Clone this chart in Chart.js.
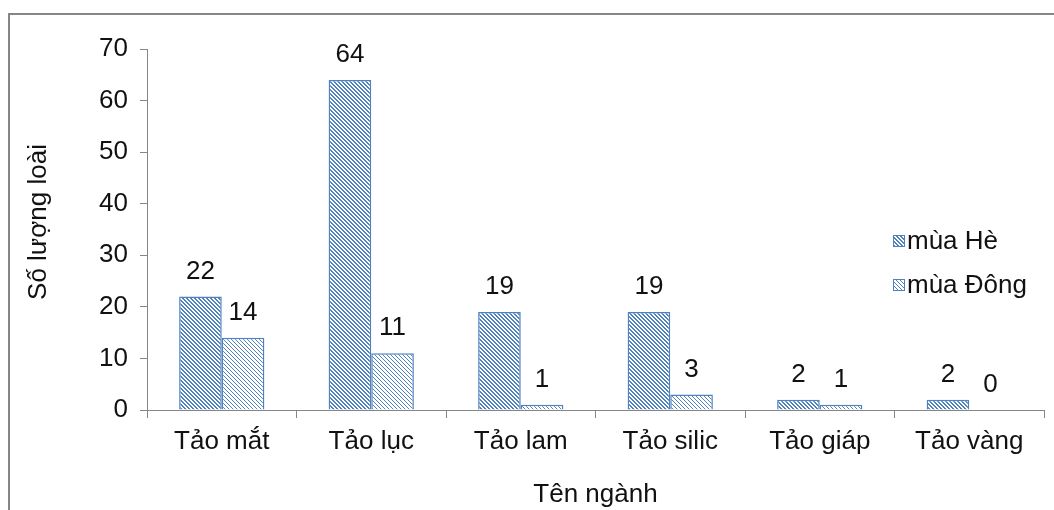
<!DOCTYPE html>
<html>
<head>
<meta charset="utf-8">
<script src="https://cdn.jsdelivr.net/npm/chart.js@4/dist/chart.umd.min.js"></script>
<style>
  html, body { margin: 0; padding: 0; background: #fff; }
  #wrap { width: 1054px; height: 510px; position: relative; }
</style>
</head>
<body>
<div id="wrap"><canvas id="c" width="1054" height="510"></canvas></div>
<script>
// Số loài tảo theo ngành, hai mùa
const categories = ['Tảo mắt', 'Tảo lục', 'Tảo lam', 'Tảo silic', 'Tảo giáp', 'Tảo vàng'];
const summerValues = [22, 64, 19, 19, 2, 2];
const winterValues = [14, 11, 1, 3, 1, 0];
const seriesNames = ['mùa Hè', 'mùa Đông'];
const yTicks = [0, 10, 20, 30, 40, 50, 60, 70];
const xTitle = 'Tên ngành';
const yTitle = 'Số lượng loài';

const BLUE = '#4F81BD';
const AXIS = '#868686';
const TEXT = '#111';
const FONT = "'Liberation Sans', Arial, sans-serif";
const FS = 26;

// diagonal hatch fills ("\" direction); stripe = blue pixels per 4px period
function hatch(stripe) {
  const t = document.createElement('canvas');
  t.width = 4; t.height = 4;
  const g = t.getContext('2d');
  g.fillStyle = '#fff';
  g.fillRect(0, 0, 4, 4);
  g.fillStyle = BLUE;
  for (let y = 0; y < 4; y++) {
    for (let x = 0; x < 4; x++) {
      if ((((x - y) % 4) + 4) % 4 < stripe) g.fillRect(x, y, 1, 1);
    }
  }
  return g.createPattern(t, 'repeat');
}
const summerFill = hatch(2);
const winterFill = hatch(1);

// outer frame of the chart object
const framePlugin = {
  id: 'frame',
  beforeDraw(chart) {
    const ctx = chart.ctx;
    ctx.save();
    ctx.strokeStyle = AXIS;
    ctx.lineWidth = 2;
    ctx.strokeRect(9, 14, 1100, 600);
    ctx.restore();
  }
};

// rotated y-axis title, placed left of the tick labels
const yTitlePlugin = {
  id: 'yTitle',
  afterDraw(chart) {
    const ctx = chart.ctx;
    ctx.save();
    ctx.translate(39, 222);
    ctx.rotate(-Math.PI / 2);
    ctx.font = FS + 'px ' + FONT;
    ctx.fillStyle = TEXT;
    ctx.textAlign = 'center';
    ctx.textBaseline = 'middle';
    ctx.fillText(yTitle, 0, 0);
    ctx.restore();
  }
};

// value labels above each bar
const valueLabels = {
  id: 'valueLabels',
  afterDatasetsDraw(chart) {
    const ctx = chart.ctx;
    ctx.save();
    ctx.font = FS + 'px ' + FONT;
    ctx.fillStyle = TEXT;
    ctx.textAlign = 'center';
    ctx.textBaseline = 'middle';
    chart.data.datasets.forEach((ds, i) => {
      const meta = chart.getDatasetMeta(i);
      meta.data.forEach((bar, j) => {
        ctx.fillText(String(ds.data[j]), bar.x, bar.y - 25);
      });
    });
    ctx.restore();
  }
};

// legend drawn inside the plot, right side
const sideLegend = {
  id: 'sideLegend',
  afterDraw(chart) {
    const ctx = chart.ctx;
    ctx.save();
    ctx.font = FS + 'px ' + FONT;
    ctx.textBaseline = 'middle';
    ctx.textAlign = 'left';
    chart.data.datasets.forEach((ds, i) => {
      const bx = 893, by = 235 + i * 44;
      ctx.fillStyle = ds.backgroundColor;
      ctx.fillRect(bx, by, 12, 12);
      ctx.strokeStyle = BLUE;
      ctx.lineWidth = 1;
      ctx.strokeRect(bx + 0.5, by + 0.5, 11, 11);
      ctx.fillStyle = TEXT;
      ctx.fillText(ds.label, bx + 14, by + 7);
    });
    ctx.restore();
  }
};

new Chart(document.getElementById('c'), {
  type: 'bar',
  data: {
    labels: categories,
    datasets: [
      { label: seriesNames[0], data: summerValues, backgroundColor: summerFill,
        borderColor: BLUE, borderWidth: 1.5 },
      { label: seriesNames[1], data: winterValues, backgroundColor: winterFill,
        borderColor: BLUE, borderWidth: 1.5 }
    ]
  },
  options: {
    responsive: false,
    animation: false,
    devicePixelRatio: 1,
    layout: { padding: { left: 0, top: 49, right: 10, bottom: 0 } },
    datasets: { bar: { barPercentage: 1, categoryPercentage: 0.57 } },
    plugins: { legend: { display: false }, tooltip: { enabled: false } },
    scales: {
      x: {
        offset: true,
        grid: { offset: true, drawOnChartArea: false, drawTicks: true, tickLength: 8, color: AXIS, lineWidth: 1 },
        border: { display: true, color: AXIS, width: 1 },
        ticks: { color: TEXT, font: { family: FONT, size: FS }, padding: 8, maxRotation: 0 },
        title: { display: true, text: xTitle, color: TEXT, font: { family: FONT, size: FS }, padding: { top: 0, bottom: 0 } },
        afterFit(scale) { scale.height = 100; }
      },
      y: {
        min: 0, max: 70,
        afterBuildTicks(scale) { scale.ticks = yTicks.map(v => ({ value: v })); },
        grid: { drawOnChartArea: false, drawTicks: true, tickLength: 7, color: AXIS, lineWidth: 1 },
        border: { display: true, color: AXIS, width: 1 },
        ticks: { color: TEXT, font: { family: FONT, size: FS }, padding: 12 },
        title: { display: false },
        afterFit(scale) { scale.width = 147; }
      }
    }
  },
  plugins: [framePlugin, yTitlePlugin, valueLabels, sideLegend]
});
</script>
</body>
</html>
